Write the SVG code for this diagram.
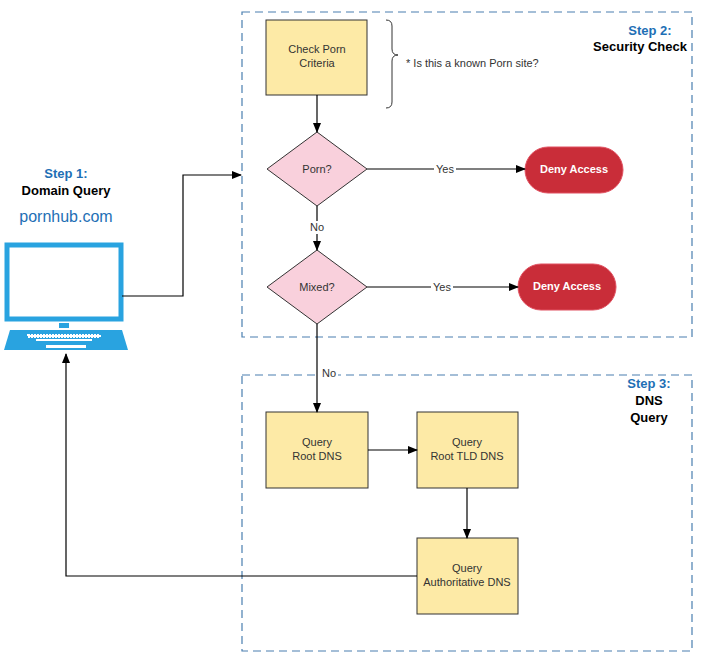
<svg xmlns="http://www.w3.org/2000/svg" width="702" height="658" viewBox="0 0 702 658">
<style>
text{font-family:"Liberation Sans",Arial,sans-serif}
.proc{fill:#fdeaa6;stroke:#333;stroke-width:1}
.dia{fill:#f9d0dc;stroke:#333;stroke-width:1}
.deny{fill:#c92d39;stroke:#e05060;stroke-width:1}
.t{font-size:11px;fill:#333;text-anchor:middle}
.w{font-size:11px;fill:#fff;font-weight:bold;text-anchor:middle}
.step{font-size:13px;font-weight:bold;fill:#1e6fb5}
.sub{font-size:13px;font-weight:bold;fill:#000}
.c{fill:none;stroke:#000;stroke-width:1.2}
.frame{fill:none;stroke:#4a7fb0;stroke-width:1.2;stroke-dasharray:8,5}
</style>
<defs><marker id="a" markerWidth="10" markerHeight="8" refX="9" refY="4" orient="auto" markerUnits="userSpaceOnUse"><path d="M0,0L10,4L0,8z" fill="#000"/></marker></defs>
<rect class="frame" x="242" y="12" width="450" height="325"/>
<rect class="frame" x="242" y="375" width="450" height="276"/>
<g id="step1"><text class="step" x="66" y="178" text-anchor="middle">Step 1:</text><text class="sub" x="66" y="195" text-anchor="middle">Domain Query</text><text x="66" y="222" text-anchor="middle" font-size="16" fill="#1e6fb5">pornhub.com</text></g>
<g id="laptop"><rect x="7" y="245" width="114" height="74" fill="#fff" stroke="#29a3e0" stroke-width="5"/><rect x="59" y="323" width="10" height="5" fill="#29a3e0"/><path d="M10,330H122L128,350H4z" fill="#29a3e0"/><rect x="28" y="335" width="72" height="2" fill="#fff" stroke="#fff" stroke-dasharray="2,1" stroke-width="2"/><rect x="36" y="339" width="56" height="2" fill="#fff"/><rect x="46" y="345" width="40" height="3" fill="#fff"/></g>
<g id="step2"><text class="step" x="650" y="35" text-anchor="middle">Step 2:</text><text class="sub" x="687" y="51" text-anchor="end">Security Check</text></g>
<g id="step3"><text class="step" x="649" y="388" text-anchor="middle">Step 3:</text><text class="sub" x="649" y="405" text-anchor="middle">DNS</text><text class="sub" x="649" y="422" text-anchor="middle">Query</text></g>
<g id="check"><rect class="proc" x="266" y="20" width="101" height="75"/><text class="t" x="317" y="53">Check Porn</text><text class="t" x="317" y="67">Criteria</text></g>
<g id="note"><path d="M386,20q6,0 6,6v23q0,6 6,6q-6,0-6,6v41q0,6-6,6" fill="none" stroke="#333"/><text x="406" y="67" font-size="11" fill="#333">* Is this a known Porn site?</text></g>
<g id="porn"><path class="dia" d="M317,132L367,169L317,206L267,169z"/><text class="t" x="317" y="173">Porn?</text></g>
<g id="deny1"><rect class="deny" x="525" y="147" width="98" height="46" rx="23"/><text class="w" x="574" y="173">Deny Access</text></g>
<g id="mixed"><path class="dia" d="M317,250L367,287L317,324L267,287z"/><text class="t" x="317" y="291">Mixed?</text></g>
<g id="deny2"><rect class="deny" x="518" y="264" width="98" height="46" rx="23"/><text class="w" x="567" y="290">Deny Access</text></g>
<g id="root"><rect class="proc" x="266" y="412" width="102" height="76"/><text class="t" x="317" y="446">Query</text><text class="t" x="317" y="460">Root DNS</text></g>
<g id="tld"><rect class="proc" x="417" y="412" width="101" height="76"/><text class="t" x="467" y="446">Query</text><text class="t" x="467" y="460">Root TLD DNS</text></g>
<g id="auth"><rect class="proc" x="417" y="538" width="101" height="76"/><text class="t" x="467" y="572">Query</text><text class="t" x="467" y="586">Authoritative DNS</text></g>
<g id="connectors">
<path class="c" d="M122,296H183V175H241" marker-end="url(#a)"/>
<path class="c" d="M317,95V132" marker-end="url(#a)"/>
<path class="c" d="M367,169H525" marker-end="url(#a)"/>
<path class="c" d="M317,206V250" marker-end="url(#a)"/>
<path class="c" d="M367,287H518" marker-end="url(#a)"/>
<path class="c" d="M317,324V412" marker-end="url(#a)"/>
<path class="c" d="M368,450H417" marker-end="url(#a)"/>
<path class="c" d="M467,488V538" marker-end="url(#a)"/>
<path class="c" d="M417,576H66V354" marker-end="url(#a)"/>
<rect x="434" y="162" width="22" height="13" fill="#fff"/><text class="t" x="445" y="173">Yes</text>
<rect x="431" y="280" width="22" height="13" fill="#fff"/><text class="t" x="442" y="291">Yes</text>
<rect x="308" y="221" width="18" height="13" fill="#fff"/><text class="t" x="317" y="231">No</text>
<rect x="320" y="366" width="18" height="13" fill="#fff"/><text class="t" x="329" y="377">No</text>
</g>
</svg>
